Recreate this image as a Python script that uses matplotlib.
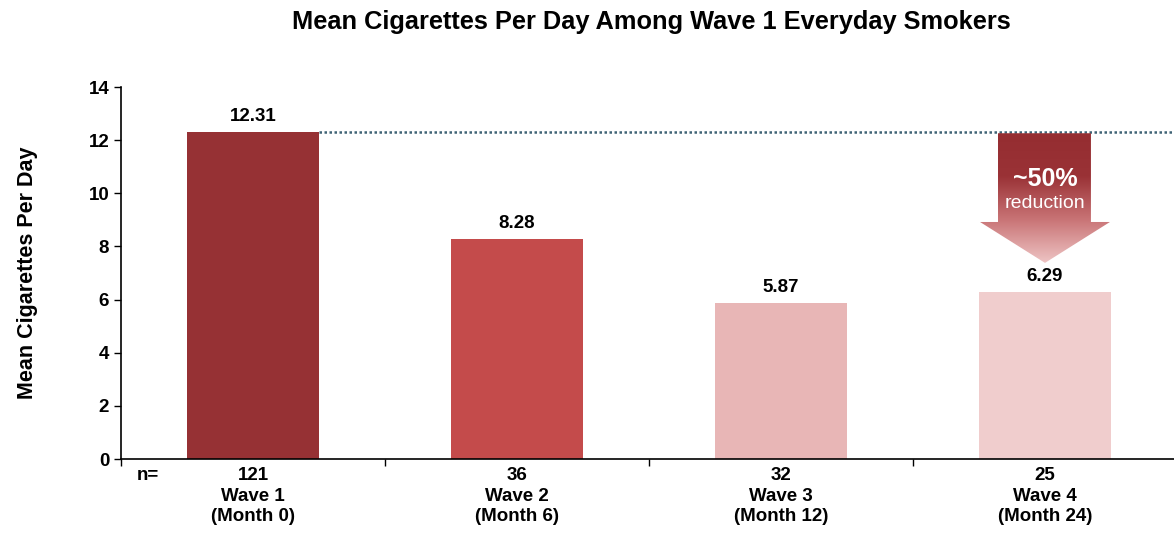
import matplotlib
matplotlib.use("Agg")
import matplotlib.pyplot as plt
import numpy as np
from matplotlib.colors import LinearSegmentedColormap
from matplotlib.patches import Polygon

plt.rcParams["font.family"] = ["Liberation Sans", "DejaVu Sans"]

waves = ["Wave 1\n(Month 0)", "Wave 2\n(Month 6)", "Wave 3\n(Month 12)", "Wave 4\n(Month 24)"]
n_counts = [121, 36, 32, 25]
mean_cpd = [12.31, 8.28, 5.87, 6.29]
bar_colors = ["#963134", "#c44b4b", "#e8b6b6", "#f0cdcd"]

W, H = 1174, 533
fig = plt.figure(figsize=(W / 100, H / 100), dpi=100)
ax = fig.add_axes([121 / W, 74 / H, 1056 / W, 372 / H])

x = np.arange(len(waves))
ax.bar(x, mean_cpd, width=0.5, color=bar_colors, zorder=2)
for xi, v in zip(x, mean_cpd):
    ax.text(xi, v + 0.25, f"{v:.2f}", ha="center", va="bottom",
            fontsize=13.5, fontweight="bold")

# baseline reference line from the first bar
ax.plot([0.25, 3.6], [mean_cpd[0]] * 2, color="#3f6375", lw=1.8,
        linestyle=(0, (1, 1)), zorder=1, clip_on=False)

# gradient arrow showing the drop
shaft_l, shaft_r = 3 - 0.178, 3 + 0.174
head_l, head_r = 3 - 0.246, 3 + 0.246
top, shaft_bot, tip = mean_cpd[0] - 0.05, 8.92, 7.38
verts = [(shaft_l, top), (shaft_r, top), (shaft_r, shaft_bot), (head_r, shaft_bot),
         (3, tip), (head_l, shaft_bot), (shaft_l, shaft_bot)]
arrow = Polygon(verts, closed=True, facecolor="none", edgecolor="none")
ax.add_patch(arrow)
cmap = LinearSegmentedColormap.from_list("drop", ["#eec4c4", "#c97476", "#9a3236", "#952d31"])
grad = np.linspace(0, 1, 256).reshape(-1, 1)
img = ax.imshow(grad, cmap=cmap, aspect="auto", origin="lower",
                extent=[head_l, head_r, tip, top], zorder=3)
img.set_clip_path(arrow)
ax.text(3, 10.55, "~50%", ha="center", va="center", color="white",
        fontsize=18, fontweight="bold", zorder=4)
ax.text(3, 9.6, "reduction", ha="center", va="center", color="white",
        fontsize=14, zorder=4)

ax.set_xlim(-0.5, 3.5)
ax.set_ylim(0, 14)
ax.set_yticks(range(0, 15, 2))
ax.set_xticks([])
ax.set_xticks([-0.5, 0.5, 1.5, 2.5, 3.5], minor=True)
ax.tick_params(axis="x", which="minor", length=5, width=1, direction="out")
ax.tick_params(axis="y", length=5, width=1, direction="out", labelsize=13.5)
for lab in ax.get_yticklabels():
    lab.set_fontweight("bold")
for s in ["top", "right"]:
    ax.spines[s].set_visible(False)
ax.spines["left"].set_linewidth(1.2)
ax.spines["bottom"].set_linewidth(1.2)

for xi, n, w in zip(x, n_counts, waves):
    ax.text(xi, -0.3, f"{n}\n{w}", ha="center", va="top", fontsize=13.5,
            fontweight="bold", linespacing=1.28)
ax.text(-0.398, -0.3, "n=", ha="center", va="top", fontsize=13.5, fontweight="bold")

ax.set_ylabel("Mean Cigarettes Per Day", fontsize=15.5, fontweight="bold", labelpad=36)
fig.text(651 / W, 1 - 22 / H, "Mean Cigarettes Per Day Among Wave 1 Everyday Smokers",
         ha="center", va="center", fontsize=18.3, fontweight="bold")

fig.savefig("out.png", dpi=100)
